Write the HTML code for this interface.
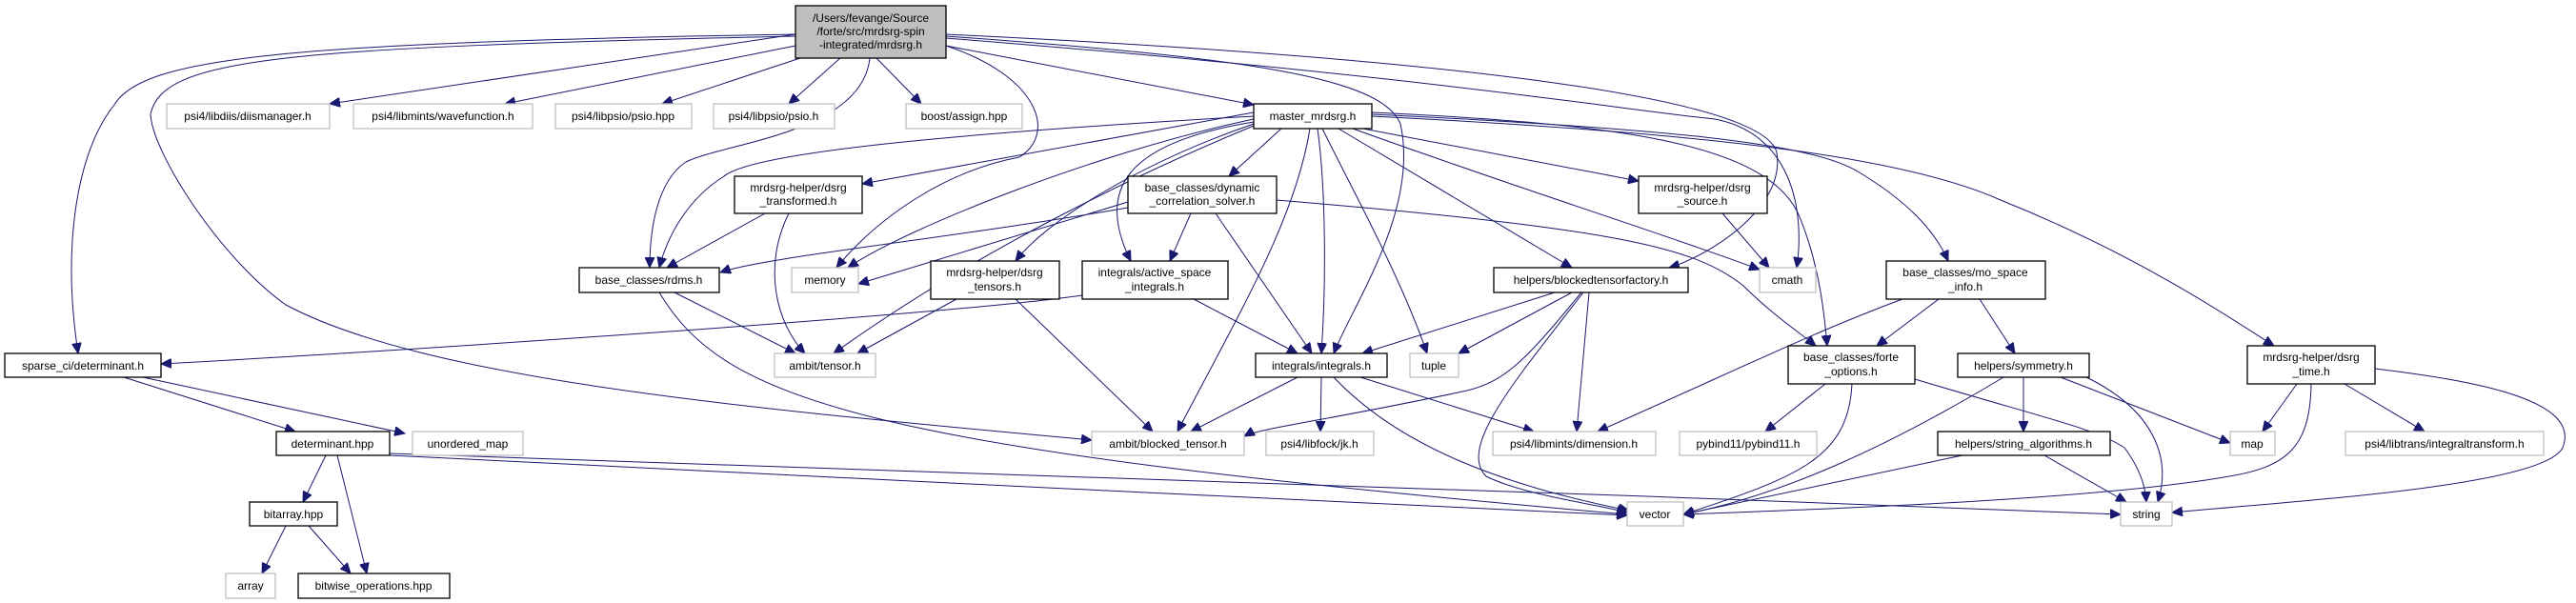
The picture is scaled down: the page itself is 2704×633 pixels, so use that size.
<!DOCTYPE html>
<html><head><meta charset="utf-8"><style>
html,body{margin:0;padding:0;background:#fff;}
svg{display:block;}
text{font-family:"Liberation Sans",sans-serif;font-size:12px;fill:#000;text-anchor:middle;}
.b{fill:#fff;stroke:#000;stroke-width:1.3;}
.g{fill:#fff;stroke:#bfbfbf;stroke-width:1.3;}
.e{fill:none;stroke:#191970;stroke-width:1;marker-end:url(#a);}
</style></head><body>
<svg width="2704" height="633" viewBox="0 0 2704 633" xmlns="http://www.w3.org/2000/svg">
<defs><marker id="a" markerUnits="userSpaceOnUse" markerWidth="12" markerHeight="10" refX="11" refY="5" orient="auto"><path d="M0,0 L11,5 L0,10 z" fill="#191970" stroke="#191970"/></marker></defs>
<g>
<!-- root edges -->
<path class="e" d="M835,36 L346,109"/>
<path class="e" d="M835,48 L530,109"/>
<path class="e" d="M840,61 L695,109"/>
<path class="e" d="M882,61 L828,109"/>
<path class="e" d="M920,61 L967,109"/>
<path class="e" d="M993,48 L1316,110"/>
<path class="e" d="M835,36 C300,45 150,60 120,110 C80,160 65,260 82,371"/>
<path class="e" d="M835,38 C300,50 170,60 158,120 C160,160 230,270 300,320 C450,400 800,430 1146,462"/>
<path class="e" d="M913,61 C905,140 760,150 720,170 C690,190 682,240 682,281"/>
<path class="e" d="M993,48 C1090,80 1110,140 1070,165 C990,180 920,230 878,281"/>
<path class="e" d="M993,38 C1300,60 1450,80 1470,130 C1490,220 1420,320 1400,371"/>
<path class="e" d="M993,36 C1500,60 1850,100 1865,160 C1875,220 1790,270 1752,281"/>
<path class="e" d="M993,40 C1500,80 1700,115 1800,125 C1880,140 1895,220 1886,281"/>
<!-- master edges -->
<path class="e" d="M1316,118 L905,193"/>
<path class="e" d="M1316,122 C1000,140 790,160 760,185 C720,210 700,250 692,281"/>
<path class="e" d="M1316,125 C1150,160 950,240 890,281"/>
<path class="e" d="M1345,135 L1290,185"/>
<path class="e" d="M1316,130 C1200,170 1100,230 1066,274"/>
<path class="e" d="M1316,128 C1180,150 1150,200 1187,274"/>
<path class="e" d="M1316,132 C1200,180 1030,260 875,371"/>
<path class="e" d="M1375,135 C1360,230 1300,330 1236,453"/>
<path class="e" d="M1383,135 C1392,200 1392,300 1387,371"/>
<path class="e" d="M1388,135 C1420,200 1470,290 1498,371"/>
<path class="e" d="M1405,135 L1650,281"/>
<path class="e" d="M1420,135 C1600,200 1760,250 1847,283"/>
<path class="e" d="M1420,133 L1720,190"/>
<path class="e" d="M1440,118 C1700,130 1860,150 1890,230 C1910,280 1915,330 1918,363"/>
<path class="e" d="M1440,120 C1750,135 1900,150 1950,180 C2000,210 2030,240 2045,274"/>
<path class="e" d="M1440,122 C1800,140 2000,165 2100,210 C2250,270 2350,340 2387,363"/>
<!-- others -->
<path class="e" d="M803,224 L700,281"/>
<path class="e" d="M828,224 C800,280 815,340 845,371"/>
<path class="e" d="M708,307 L835,371"/>
<path class="e" d="M692,307 C760,420 900,470 1708,540"/>
<path class="e" d="M1184,218 C1000,250 800,270 756,286"/>
<path class="e" d="M1184,212 L901,298"/>
<path class="e" d="M1250,224 L1228,274"/>
<path class="e" d="M1276,224 L1377,371"/>
<path class="e" d="M1340,210 C1700,240 1780,260 1830,300 C1860,330 1890,350 1906,363"/>
<path class="e" d="M1004,314 L900,371"/>
<path class="e" d="M1066,314 L1210,453"/>
<path class="e" d="M1136,310 C1000,330 400,370 169,382"/>
<path class="e" d="M1253,314 L1362,371"/>
<path class="e" d="M1632,307 L1430,371"/>
<path class="e" d="M1650,307 L1531,371"/>
<path class="e" d="M1660,307 C1600,380 1580,400 1540,410 C1400,440 1320,450 1306,458"/>
<path class="e" d="M1668,307 L1655,453"/>
<path class="e" d="M1662,307 C1590,400 1530,470 1560,500 C1600,520 1680,530 1708,538"/>
<path class="e" d="M1808,224 L1857,281"/>
<path class="e" d="M1997,314 C1900,350 1820,390 1677,453"/>
<path class="e" d="M2035,314 L1970,363"/>
<path class="e" d="M2078,314 L2115,371"/>
<path class="e" d="M130,396 L310,453"/>
<path class="e" d="M150,396 L425,455"/>
<path class="e" d="M1362,396 L1250,453"/>
<path class="e" d="M1387,396 L1386,453"/>
<path class="e" d="M1428,396 L1610,453"/>
<path class="e" d="M1400,396 C1470,470 1580,510 1710,536"/>
<path class="e" d="M1916,403 L1853,453"/>
<path class="e" d="M1944,403 C1940,480 1890,500 1767,540"/>
<path class="e" d="M2010,398 C2150,440 2200,450 2230,470 C2245,490 2252,510 2253,527"/>
<path class="e" d="M2103,396 C1980,470 1870,520 1767,540"/>
<path class="e" d="M2124,396 L2124,453"/>
<path class="e" d="M2163,396 L2341,465"/>
<path class="e" d="M2190,396 C2260,430 2280,480 2265,527"/>
<path class="e" d="M2411,403 L2375,453"/>
<path class="e" d="M2426,403 C2425,470 2400,490 2340,500 C2200,525 1900,535 1767,540"/>
<path class="e" d="M2461,403 L2545,453"/>
<path class="e" d="M2493,387 C2600,400 2710,420 2690,470 C2670,510 2420,525 2280,538"/>
<path class="e" d="M2060,478 L1767,540"/>
<path class="e" d="M2146,478 L2232,527"/>
<path class="e" d="M342,478 L318,527"/>
<path class="e" d="M354,478 L385,602"/>
<path class="e" d="M409,478 C800,500 1300,520 1708,541"/>
<path class="e" d="M409,476 C900,492 1600,515 2226,540"/>
<path class="e" d="M300,552 L275,602"/>
<path class="e" d="M324,552 L368,602"/>
</g>
<!-- nodes -->
<rect x="835" y="6" width="158" height="55" fill="#bfbfbf" stroke="#000" stroke-width="1.3"/>
<text x="914" y="23">/Users/fevange/Source</text><text x="914" y="37">/forte/src/mrdsrg-spin</text><text x="914" y="51">-integrated/mrdsrg.h</text>

<rect class="g" x="175" y="109" width="171" height="26"/><text x="260" y="126">psi4/libdiis/diismanager.h</text>
<rect class="g" x="371" y="109" width="188" height="26"/><text x="465" y="126">psi4/libmints/wavefunction.h</text>
<rect class="g" x="583" y="109" width="143" height="26"/><text x="654" y="126">psi4/libpsio/psio.hpp</text>
<rect class="g" x="749" y="109" width="127" height="26"/><text x="812" y="126">psi4/libpsio/psio.h</text>
<rect class="g" x="951" y="109" width="122" height="26"/><text x="1012" y="126">boost/assign.hpp</text>
<rect class="b" x="1316" y="109" width="124" height="26"/><text x="1378" y="126">master_mrdsrg.h</text>

<rect class="b" x="771" y="185" width="134" height="39"/><text x="838" y="201">mrdsrg-helper/dsrg</text><text x="838" y="215">_transformed.h</text>
<rect class="b" x="1184" y="185" width="156" height="39"/><text x="1262" y="201">base_classes/dynamic</text><text x="1262" y="215">_correlation_solver.h</text>
<rect class="b" x="1720" y="185" width="135" height="39"/><text x="1787" y="201">mrdsrg-helper/dsrg</text><text x="1787" y="215">_source.h</text>

<rect class="b" x="608" y="281" width="147" height="26"/><text x="681" y="298">base_classes/rdms.h</text>
<rect class="g" x="831" y="281" width="70" height="26"/><text x="866" y="298">memory</text>
<rect class="b" x="977" y="274" width="135" height="40"/><text x="1044" y="290">mrdsrg-helper/dsrg</text><text x="1044" y="305">_tensors.h</text>
<rect class="b" x="1136" y="274" width="153" height="40"/><text x="1212" y="290">integrals/active_space</text><text x="1212" y="305">_integrals.h</text>
<rect class="b" x="1568" y="281" width="204" height="26"/><text x="1670" y="298">helpers/blockedtensorfactory.h</text>
<rect class="g" x="1847" y="281" width="59" height="26"/><text x="1876" y="298">cmath</text>
<rect class="b" x="1980" y="274" width="167" height="40"/><text x="2063" y="290">base_classes/mo_space</text><text x="2063" y="305">_info.h</text>

<rect class="b" x="5" y="371" width="164" height="25"/><text x="87" y="388">sparse_ci/determinant.h</text>
<rect class="g" x="813" y="371" width="106" height="25"/><text x="866" y="388">ambit/tensor.h</text>
<rect class="b" x="1318" y="371" width="138" height="25"/><text x="1387" y="388">integrals/integrals.h</text>
<rect class="g" x="1480" y="371" width="51" height="25"/><text x="1505" y="388">tuple</text>
<rect class="b" x="1877" y="363" width="133" height="40"/><text x="1943" y="379">base_classes/forte</text><text x="1943" y="394">_options.h</text>
<rect class="b" x="2055" y="371" width="138" height="25"/><text x="2124" y="388">helpers/symmetry.h</text>
<rect class="b" x="2359" y="363" width="134" height="40"/><text x="2426" y="379">mrdsrg-helper/dsrg</text><text x="2426" y="394">_time.h</text>

<rect class="b" x="290" y="453" width="119" height="25"/><text x="349" y="470">determinant.hpp</text>
<rect class="g" x="433" y="453" width="116" height="25"/><text x="491" y="470">unordered_map</text>
<rect class="g" x="1146" y="453" width="160" height="25"/><text x="1226" y="470">ambit/blocked_tensor.h</text>
<rect class="g" x="1329" y="453" width="113" height="25"/><text x="1385" y="470">psi4/libfock/jk.h</text>
<rect class="g" x="1567" y="453" width="171" height="25"/><text x="1652" y="470">psi4/libmints/dimension.h</text>
<rect class="g" x="1763" y="453" width="144" height="25"/><text x="1835" y="470">pybind11/pybind11.h</text>
<rect class="b" x="2034" y="453" width="181" height="25"/><text x="2124" y="470">helpers/string_algorithms.h</text>
<rect class="g" x="2341" y="453" width="47" height="25"/><text x="2364" y="470">map</text>
<rect class="g" x="2462" y="453" width="208" height="25"/><text x="2566" y="470">psi4/libtrans/integraltransform.h</text>

<rect class="b" x="262" y="527" width="92" height="25"/><text x="308" y="544">bitarray.hpp</text>
<rect class="g" x="1708" y="527" width="59" height="25"/><text x="1737" y="544">vector</text>
<rect class="g" x="2226" y="527" width="54" height="25"/><text x="2253" y="544">string</text>
<rect class="g" x="237" y="602" width="52" height="26"/><text x="263" y="619">array</text>
<rect class="b" x="313" y="602" width="159" height="26"/><text x="392" y="619">bitwise_operations.hpp</text>
</svg>
</body></html>
